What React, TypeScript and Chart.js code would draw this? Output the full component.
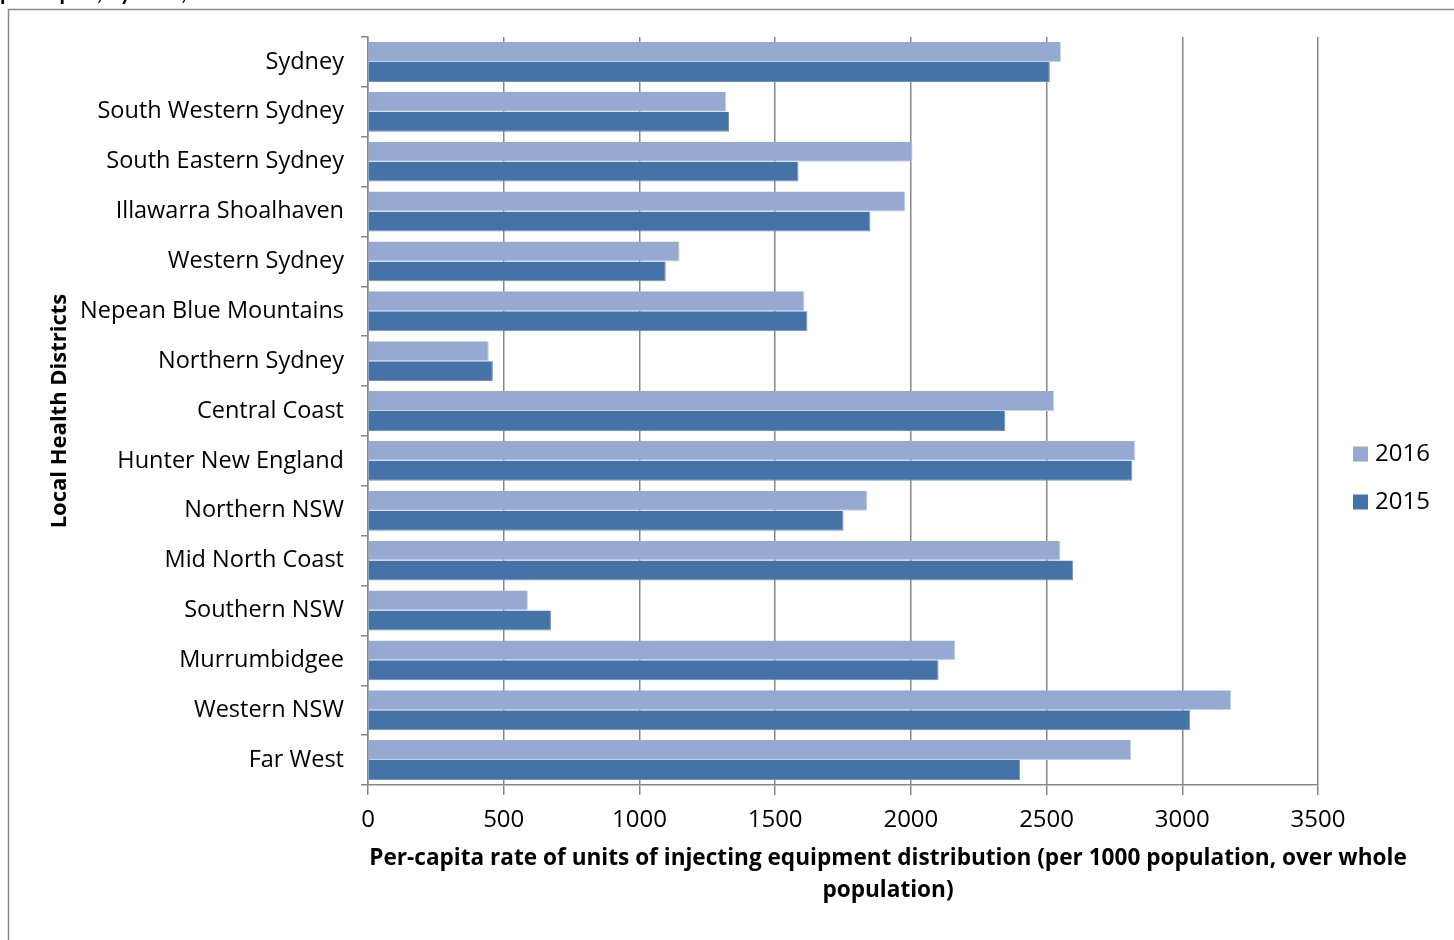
import React, { useEffect, useRef } from "react";
import { Chart, registerables } from "chart.js";
Chart.register(...registerables);

const categories = [
  "Sydney",
  "South Western Sydney",
  "South Eastern Sydney",
  "Illawarra Shoalhaven",
  "Western Sydney",
  "Nepean Blue Mountains",
  "Northern Sydney",
  "Central Coast",
  "Hunter New England",
  "Northern NSW",
  "Mid North Coast",
  "Southern NSW",
  "Murrumbidgee",
  "Western NSW",
  "Far West",
];
const values2016 = [2553, 1320, 2006, 1980, 1148, 1608, 445, 2528, 2827, 1840, 2551, 589, 2164, 3180, 2812];
const values2015 = [2512, 1330, 1586, 1851, 1097, 1619, 460, 2348, 2816, 1752, 2598, 674, 2102, 3029, 2403];
const seriesLabels = ["2016", "2015"];
const seriesColors = ["#95A9D1", "#4573A7"];
const xMin = 0;
const xMax = 3500;
const xStep = 500;
const xTitleLines = [
  "Per-capita rate of units of injecting equipment distribution (per 1000 population, over whole",
  "population)",
];
const yTitle = "Local Health Districts";
const topTitle = "per capita, by LHD, NSW 2015 and 2016";

const FONT = "'Open Sans', 'Noto Sans', sans-serif";
const GRID = "#878787";

export default function App() {
  const ref = useRef<HTMLCanvasElement>(null);
  useEffect(() => {
    const canvas = ref.current!;
    const overlay = {
      id: "overlay",
      beforeDraw(chart: any) {
        const ctx = chart.ctx;
        ctx.save();
        ctx.fillStyle = "#fff";
        ctx.fillRect(0, 0, chart.width, chart.height);
        ctx.strokeStyle = "#8a8a8a";
        ctx.lineWidth = 1.5;
        ctx.beginPath();
        ctx.moveTo(8.5, chart.height + 5);
        ctx.lineTo(8.5, 9.5);
        ctx.lineTo(chart.width + 5, 9.5);
        ctx.stroke();
        ctx.fillStyle = "#000";
        ctx.font = `bold 22px Lato, sans-serif`;
        ctx.textBaseline = "alphabetic";
        ctx.textAlign = "left";
        ctx.fillText(topTitle, 0, 0);
        ctx.restore();
      },
      afterDraw(chart: any) {
        const ctx = chart.ctx;
        const area = chart.chartArea;
        ctx.save();
        ctx.fillStyle = "#000";
        // x title
        ctx.font = `bold 22.6px ${FONT}`;
        ctx.textAlign = "center";
        ctx.textBaseline = "middle";
        const cx = 888;
        ctx.fillText(xTitleLines[0], cx, 859);
        ctx.fillText(xTitleLines[1], cx, 891);
        // y title
        ctx.font = `bold 22px ${FONT}`;
        ctx.save();
        ctx.translate(60, (area.top + area.bottom) / 2);
        ctx.rotate(-Math.PI / 2);
        ctx.fillText(yTitle, 0, 0);
        ctx.restore();
        // legend
        ctx.font = `24px ${FONT}`;
        ctx.textAlign = "left";
        const ds = chart.data.datasets;
        ds.forEach((d: any, i: number) => {
          const y = 454 + i * 48;
          ctx.fillStyle = d.backgroundColor;
          ctx.fillRect(1353, y - 7.5, 15, 15);
          ctx.fillStyle = "#000";
          ctx.fillText(d.label, 1375, y);
        });
        ctx.restore();
      },
    };
    const chart = new Chart(canvas, {
      type: "bar",
      data: {
        labels: categories,
        datasets: [
          {
            label: seriesLabels[0],
            data: values2016,
            backgroundColor: seriesColors[0],
            borderColor: "#C3D0E8",
            borderWidth: { top: 0, left: 0, right: 1, bottom: 1 },
            categoryPercentage: 0.8,
            barPercentage: 1.0,
          },
          {
            label: seriesLabels[1],
            data: values2015,
            backgroundColor: seriesColors[1],
            borderColor: "#6E92BF",
            borderWidth: { top: 0, left: 0, right: 1, bottom: 1 },
            categoryPercentage: 0.8,
            barPercentage: 1.0,
          },
        ],
      },
      options: {
        indexAxis: "y",
        responsive: false,
        animation: false,
        events: [],
        layout: { padding: { top: 37, right: 136, bottom: 0, left: 0 } },
        plugins: {
          legend: { display: false },
          tooltip: { enabled: false },
        },
        scales: {
          x: {
            min: xMin,
            max: xMax,
            ticks: {
              stepSize: xStep,
              color: "#000",
              font: { family: FONT, size: 24 },
              padding: 11,
              maxRotation: 0,
              callback: (v: any) => String(v),
            },
            grid: {
              color: GRID,
              lineWidth: 1.5,
              tickLength: 10,
              drawTicks: true,
            },
            border: { display: true, color: GRID, width: 1.5 },
            afterFit(scale: any) {
              scale.height = 155;
            },
          },
          y: {
            ticks: {
              color: "#000",
              font: { family: FONT, size: 23.5 },
              padding: 17,
              autoSkip: false,
            },
            grid: {
              offset: true,
              drawOnChartArea: false,
              drawTicks: true,
              tickLength: 7,
              color: GRID,
              lineWidth: 1.5,
            },
            border: { display: true, color: GRID, width: 1.5 },
            afterFit(scale: any) {
              scale.width = 368;
            },
          },
        },
      },
      plugins: [overlay],
    } as any);
    return () => chart.destroy();
  }, []);
  return (
    <div style={{ position: "fixed", left: 0, top: 0, width: 1454, height: 940, background: "#fff" }}>
      <canvas ref={ref} width={1454} height={940} style={{ width: 1454, height: 940, display: "block" }} />
    </div>
  );
}
